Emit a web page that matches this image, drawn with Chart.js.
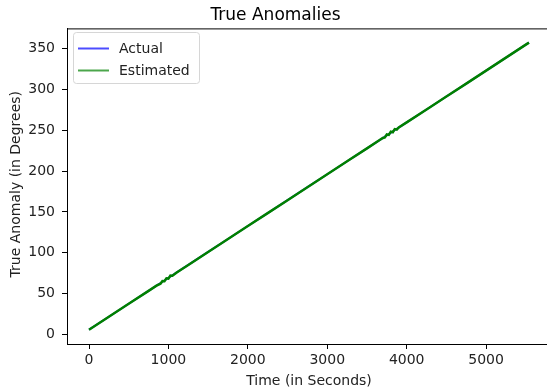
<!DOCTYPE html>
<html>
<head>
<meta charset="utf-8">
<script src="https://cdn.jsdelivr.net/npm/chart.js@4.4.0/dist/chart.umd.min.js"></script>
<style>
  html, body { margin: 0; padding: 0; background: #fff; overflow: hidden; }
  #wrap { width: 547px; height: 391px; overflow: hidden; }
</style>
</head>
<body>
<div id="wrap"><canvas id="anomalyChart" width="560" height="391"></canvas></div>
<script>
// time samples (seconds)
var timeSec = [0, 250, 500, 750, 850, 900, 925, 950, 975, 1000, 1025, 1050, 1100, 1250, 1500, 1750, 2000, 2250, 2500, 2750, 3000, 3250, 3500, 3650, 3700, 3725, 3750, 3775, 3800, 3825, 3850, 3875, 3900, 4000, 4250, 4500, 4750, 5000, 5250, 5500, 5540];
// true anomaly (degrees)
var actualDeg = [6.0, 21.8, 37.7, 53.5, 59.9, 63.0, 64.6, 66.2, 67.8, 69.4, 71.0, 72.6, 75.7, 85.2, 101.1, 116.9, 132.8, 148.6, 164.4, 180.3, 196.1, 212.0, 227.8, 237.3, 240.5, 242.1, 243.6, 245.2, 246.8, 248.4, 250.0, 251.6, 253.2, 259.5, 275.3, 291.2, 307.0, 322.9, 338.7, 354.6, 357.1];
var estimatedDeg = [6.0, 21.8, 37.7, 53.5, 59.9, 62.2, 65.6, 65.4, 68.9, 68.5, 72.1, 71.9, 75.7, 85.2, 101.1, 116.9, 132.8, 148.6, 164.4, 180.3, 196.1, 212.0, 227.8, 237.3, 240.5, 241.2, 244.8, 244.3, 248.2, 247.5, 251.3, 250.8, 253.4, 259.5, 275.3, 291.2, 307.0, 322.9, 338.7, 354.6, 357.1];
var xTicks = [0, 1000, 2000, 3000, 4000, 5000];
var yTicks = [0, 50, 100, 150, 200, 250, 300, 350];
var xLabel = 'Time (in Seconds)';
var yLabel = 'True Anomaly (in Degrees)';

var FONT = "'DejaVu Sans', sans-serif";

function pts(xs, ys) {
  return xs.map(function (x, i) { return { x: x, y: ys[i] }; });
}

// spines on top/right, axis titles, legend box inside the plot
var extras = {
  id: 'extras',
  afterDraw: function (chart) {
    var ctx = chart.ctx, a = chart.chartArea;
    ctx.save();
    ctx.strokeStyle = '#000';
    ctx.lineWidth = 1;
    ctx.beginPath();
    ctx.moveTo(a.left, a.top + 0.5);
    ctx.lineTo(a.right, a.top + 0.5);
    ctx.moveTo(a.right - 0.5, a.top);
    ctx.lineTo(a.right - 0.5, a.bottom);
    ctx.stroke();

    // axis titles
    ctx.fillStyle = '#222';
    ctx.font = '14px ' + FONT;
    ctx.textAlign = 'center';
    ctx.textBaseline = 'middle';
    ctx.fillText(xLabel, (a.left + a.right) / 2, 381.5);
    ctx.save();
    ctx.translate(16.5, (a.top + a.bottom) / 2 - 2);
    ctx.rotate(-Math.PI / 2);
    ctx.fillText(yLabel, 0, 0);
    ctx.restore();

    // legend
    var bx = 73, by = 32, bw = 126, bh = 51;
    ctx.fillStyle = 'rgba(255,255,255,0.8)';
    ctx.strokeStyle = '#d6d6d6';
    ctx.beginPath();
    ctx.roundRect(bx + 0.5, by + 0.5, bw, bh, 3);
    ctx.fill();
    ctx.stroke();
    ctx.textAlign = 'left';
    var handleColors = ['rgba(0,0,255,0.7)', 'rgba(0,128,0,0.7)'];
    chart.data.datasets.forEach(function (ds, i) {
      var yy = 48.5 + i * 22;
      ctx.strokeStyle = handleColors[i];
      ctx.lineWidth = 2;
      ctx.beginPath();
      ctx.moveTo(78, yy);
      ctx.lineTo(109, yy);
      ctx.stroke();
      ctx.fillStyle = '#222';
      ctx.fillText(ds.label, 119, yy + 0.5);
    });
    ctx.restore();
  }
};

var ctxA = document.getElementById('anomalyChart').getContext('2d');
var anomalyChart = new Chart(ctxA, {
  type: 'line',
  data: {
    datasets: [
      {
        label: 'Actual',
        data: pts(timeSec, actualDeg),
        borderColor: 'rgba(0,0,255,0.7)',
        borderWidth: 2,
        pointRadius: 0,
        tension: 0,
        fill: false,
        order: 2
      },
      {
        label: 'Estimated',
        data: pts(timeSec, estimatedDeg),
        borderColor: '#008000',
        borderWidth: 2.5,
        pointRadius: 0,
        tension: 0,
        fill: false,
        order: 1
      }
    ]
  },
  options: {
    responsive: false,
    animation: false,
    layout: { padding: { left: 0, right: 9, top: 0, bottom: 0 } },
    plugins: {
      legend: { display: false },
      tooltip: { enabled: false },
      title: {
        display: true,
        text: 'True Anomalies',
        color: '#000',
        font: { family: FONT, size: 17, weight: 'normal' },
        padding: { top: 5, bottom: 3 }
      }
    },
    scales: {
      x: {
        type: 'linear',
        min: -277,
        max: 5817,
        afterBuildTicks: function (s) { s.ticks = xTicks.map(function (v) { return { value: v }; }); },
        afterFit: function (s) { s.height = 47; },
        grid: { drawOnChartArea: false, drawTicks: true, tickLength: 5, color: '#000' },
        border: { color: '#000', width: 1 },
        ticks: {
          color: '#222', padding: 3, maxRotation: 0,
          font: { family: FONT, size: 14 },
          callback: function (v) { return String(v); }
        }
      },
      y: {
        type: 'linear',
        min: -11.5,
        max: 374.5,
        afterBuildTicks: function (s) { s.ticks = yTicks.map(function (v) { return { value: v }; }); },
        afterFit: function (s) { s.width = 67; },
        grid: { drawOnChartArea: false, drawTicks: true, tickLength: 5, color: '#000' },
        border: { color: '#000', width: 1 },
        ticks: {
          color: '#222', padding: 7,
          font: { family: FONT, size: 14 },
          callback: function (v) { return String(v); }
        }
      }
    }
  },
  plugins: [extras]
});
</script>
</body>
</html>
